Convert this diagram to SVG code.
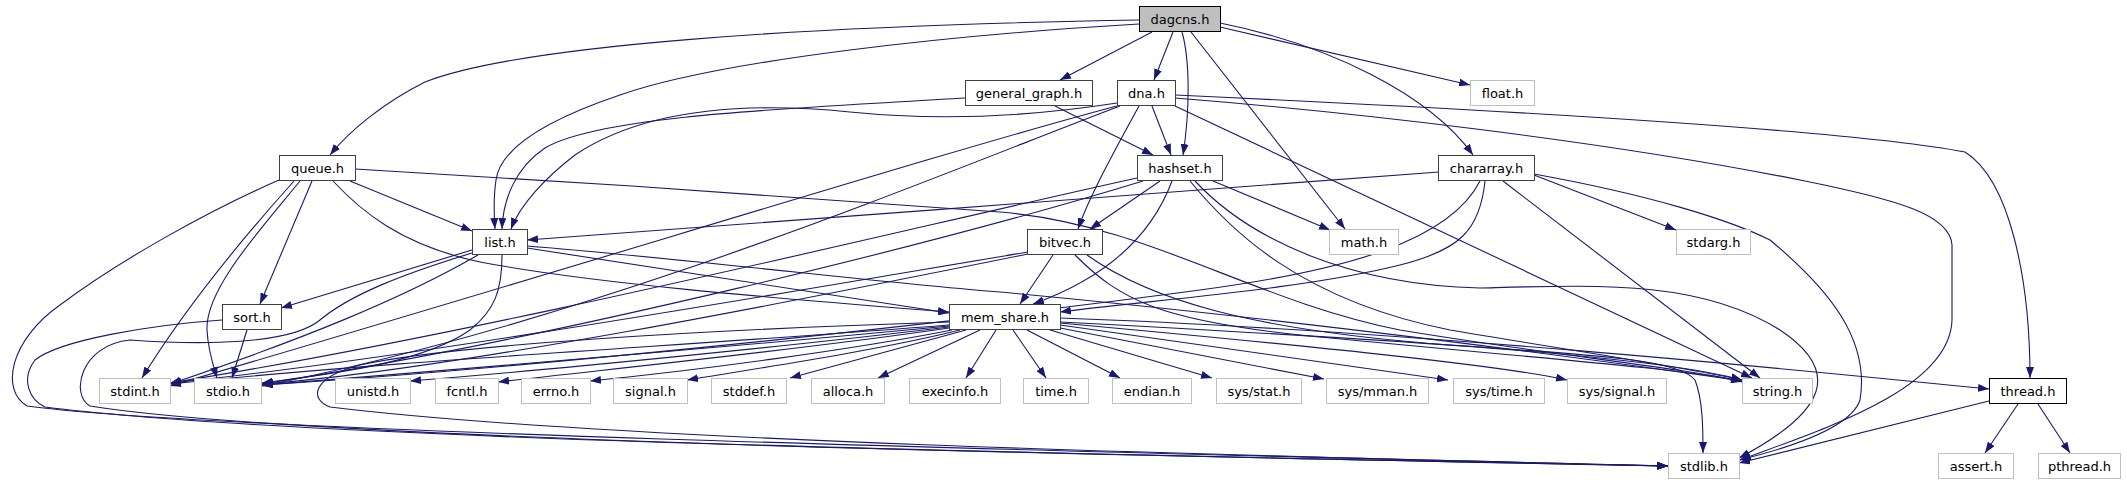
<svg xmlns="http://www.w3.org/2000/svg" width="2127" height="485" viewBox="0 0 2127 485">
<defs>
<marker id="a" viewBox="0 0 11 8" refX="11" refY="4" markerWidth="11" markerHeight="8" orient="auto" markerUnits="userSpaceOnUse"><path d="M0,0L11,4L0,8z" fill="#191970"/></marker>
<style>
rect{fill:#fff;stroke:#404040;stroke-width:1}
.g rect{stroke:#bfbfbf}
.r rect{fill:#bfbfbf;stroke:#000}
.k rect{stroke:#000}
text{font-family:"DejaVu Sans",sans-serif;font-size:13px;text-anchor:middle;fill:#000}
#edges path{fill:none;stroke:#191970;stroke-width:1.1;marker-end:url(#a)}
</style>
</defs>
<rect x="0" y="0" width="2127" height="485" style="fill:#fff;stroke:none"/>
<g id="edges">
<path d="M1139,20 C800,26 520,45 425,82 C385,102 350,130 330,155"/>
<path d="M1139,24 C950,35 720,60 620,95 C540,122 500,150 496,180 C493,200 494,215 495,229"/>
<path d="M1152,32 L1060,80"/>
<path d="M1173,32 L1154,80"/>
<path d="M1182,32 C1190,60 1190,110 1183,155"/>
<path d="M1191,32 L1345,229"/>
<path d="M1220,27 L1470,85"/>
<path d="M1220,23 C1330,45 1430,95 1473,155"/>
<path d="M965,98 C800,108 600,115 545,148 C515,168 503,200 502,229"/>
<path d="M1055,106 L1153,155"/>
<path d="M1117,103 C1040,115 950,122 850,112 C760,103 650,105 575,155 C545,178 520,205 511,229"/>
<path d="M1152,106 L1171,155"/>
<path d="M1139,106 C1115,150 1090,195 1078,229"/>
<path d="M1117,106 C950,150 600,260 170,386"/>
<path d="M1120,106 C950,170 600,320 262,386"/>
<path d="M1175,106 L1752,378"/>
<path d="M1175,98 C1350,112 1600,140 1800,180 C1900,200 1950,215 1952,245 L1952,320 C1950,390 1820,430 1740,460"/>
<path d="M1175,95 C1500,110 1850,130 1965,152 C2010,180 2030,280 2030,378"/>
<path d="M350,181 L472,231"/>
<path d="M333,181 C360,210 400,245 480,262 C600,285 800,300 949,312"/>
<path d="M312,181 L260,304"/>
<path d="M300,181 C260,230 205,290 207,330 C208,350 213,365 217,378"/>
<path d="M294,181 C250,230 190,300 142,378"/>
<path d="M279,180 C210,210 120,260 60,305 C10,340 0,390 27,406 C200,430 1000,450 1668,466"/>
<path d="M355,169 C550,180 850,200 1000,212 C1150,225 1250,300 1400,330 C1550,355 1700,370 1742,382"/>
<path d="M472,250 L281,308"/>
<path d="M527,248 L949,313"/>
<path d="M527,246 C700,260 900,285 1000,292 C1300,320 1600,360 1742,381"/>
<path d="M478,255 C400,300 300,340 170,384"/>
<path d="M502,255 C502,290 495,310 470,330 C420,365 320,375 262,383"/>
<path d="M472,253 C400,275 350,295 320,320 C290,345 200,345 130,340 C80,345 70,395 90,406 C300,440 1100,455 1668,466"/>
<path d="M247,330 L232,378"/>
<path d="M222,320 C150,325 60,340 35,360 C20,380 30,400 45,407 C300,440 1100,455 1668,466"/>
<path d="M949,325 C700,345 400,360 170,384"/>
<path d="M949,326 C700,350 450,370 262,385"/>
<path d="M949,327 C800,345 550,370 410,381"/>
<path d="M949,328 C800,350 600,370 498,382"/>
<path d="M952,330 C850,350 700,370 590,381"/>
<path d="M960,330 C880,350 760,368 687,380"/>
<path d="M966,330 L790,378"/>
<path d="M980,330 L878,378"/>
<path d="M996,330 L966,378"/>
<path d="M1013,330 L1046,378"/>
<path d="M1027,330 L1120,378"/>
<path d="M1050,330 L1212,378"/>
<path d="M1060,328 L1324,379"/>
<path d="M1060,325 L1448,380"/>
<path d="M1060,323 C1300,345 1500,365 1567,380"/>
<path d="M1060,322 C1400,340 1650,355 1742,380"/>
<path d="M949,322 C700,330 450,345 360,365 C310,378 310,400 330,407 C600,440 1200,455 1668,466"/>
<path d="M1060,318 C1400,330 1800,370 1989,389"/>
<path d="M1053,255 L1020,304"/>
<path d="M1028,252 C800,290 400,360 170,383"/>
<path d="M1028,254 C800,300 450,370 262,384"/>
<path d="M1075,255 C1120,300 1160,320 1300,335 C1500,355 1680,368 1742,381"/>
<path d="M1087,255 C1150,300 1250,330 1450,345 C1600,355 1680,360 1695,380 C1703,400 1703,430 1703,453"/>
<path d="M1160,181 L1090,229"/>
<path d="M1172,181 C1150,240 1100,280 1033,304"/>
<path d="M1213,181 L1330,230"/>
<path d="M1137,178 C900,230 500,330 170,383"/>
<path d="M1143,181 C950,240 550,340 262,384"/>
<path d="M1190,181 C1230,230 1300,300 1450,330 C1600,355 1700,370 1742,380"/>
<path d="M1195,181 C1250,240 1350,285 1480,288 C1600,285 1700,280 1780,330 C1840,370 1830,410 1739,458"/>
<path d="M1439,172 C1200,190 800,220 527,240"/>
<path d="M1485,181 C1480,230 1460,250 1400,265 C1300,290 1150,300 1060,312"/>
<path d="M1480,181 C1450,240 1350,270 1200,290 C900,330 500,370 262,385"/>
<path d="M1534,175 L1676,230"/>
<path d="M1503,181 L1760,378"/>
<path d="M1534,174 C1650,195 1730,220 1770,240 C1830,290 1870,340 1860,400 C1850,430 1780,450 1739,460"/>
<path d="M1989,401 L1739,463"/>
<path d="M2018,404 L1985,453"/>
<path d="M2038,404 L2070,453"/>
</g>
<g id="dagcns" class="r"><rect x="1139.5" y="6.5" width="81" height="25"/><text x="1180" y="23.5">dagcns.h</text></g>
<g id="general_graph"><rect x="965.5" y="80.5" width="127" height="25"/><text x="1029" y="97.5">general_graph.h</text></g>
<g id="dna"><rect x="1117.5" y="80.5" width="58" height="25"/><text x="1146.5" y="97.5">dna.h</text></g>
<g id="float" class="g"><rect x="1470.5" y="80.5" width="64" height="25"/><text x="1502.5" y="97.5">float.h</text></g>
<g id="queue"><rect x="279.5" y="155.5" width="76" height="25"/><text x="317.5" y="172.5">queue.h</text></g>
<g id="hashset"><rect x="1137.5" y="155.5" width="85" height="25"/><text x="1180" y="172.5">hashset.h</text></g>
<g id="chararray"><rect x="1438.5" y="155.5" width="96" height="25"/><text x="1486.5" y="172.5">chararray.h</text></g>
<g id="list"><rect x="472.5" y="229.5" width="55" height="25"/><text x="500" y="246.5">list.h</text></g>
<g id="bitvec"><rect x="1027.5" y="229.5" width="75" height="25"/><text x="1065" y="246.5">bitvec.h</text></g>
<g id="math" class="g"><rect x="1329.5" y="229.5" width="69" height="25"/><text x="1364" y="246.5">math.h</text></g>
<g id="stdarg" class="g"><rect x="1676.5" y="229.5" width="74" height="25"/><text x="1713.5" y="246.5">stdarg.h</text></g>
<g id="sort"><rect x="222.5" y="304.5" width="59" height="25"/><text x="252" y="321.5">sort.h</text></g>
<g id="mem_share"><rect x="949.5" y="304.5" width="111" height="25"/><text x="1005" y="321.5">mem_share.h</text></g>
<g id="stdint" class="g"><rect x="99.5" y="378.5" width="71" height="25"/><text x="135" y="395.5">stdint.h</text></g>
<g id="stdio" class="g"><rect x="194.5" y="378.5" width="67" height="25"/><text x="228" y="395.5">stdio.h</text></g>
<g id="unistd" class="g"><rect x="335.5" y="378.5" width="75" height="25"/><text x="373" y="395.5">unistd.h</text></g>
<g id="fcntl" class="g"><rect x="435.5" y="378.5" width="63" height="25"/><text x="467" y="395.5">fcntl.h</text></g>
<g id="errno" class="g"><rect x="521.5" y="378.5" width="69" height="25"/><text x="556" y="395.5">errno.h</text></g>
<g id="signal" class="g"><rect x="613.5" y="378.5" width="74" height="25"/><text x="650.5" y="395.5">signal.h</text></g>
<g id="stddef" class="g"><rect x="711.5" y="378.5" width="75" height="25"/><text x="749" y="395.5">stddef.h</text></g>
<g id="alloca" class="g"><rect x="811.5" y="378.5" width="73" height="25"/><text x="848" y="395.5">alloca.h</text></g>
<g id="execinfo" class="g"><rect x="909.5" y="378.5" width="91" height="25"/><text x="955" y="395.5">execinfo.h</text></g>
<g id="time" class="g"><rect x="1023.5" y="378.5" width="65" height="25"/><text x="1056" y="395.5">time.h</text></g>
<g id="endian" class="g"><rect x="1112.5" y="378.5" width="79" height="25"/><text x="1152" y="395.5">endian.h</text></g>
<g id="sys_stat" class="g"><rect x="1216.5" y="378.5" width="85" height="25"/><text x="1259" y="395.5">sys/stat.h</text></g>
<g id="sys_mman" class="g"><rect x="1326.5" y="378.5" width="102" height="25"/><text x="1377.5" y="395.5">sys/mman.h</text></g>
<g id="sys_time" class="g"><rect x="1453.5" y="378.5" width="91" height="25"/><text x="1499" y="395.5">sys/time.h</text></g>
<g id="sys_signal" class="g"><rect x="1567.5" y="378.5" width="99" height="25"/><text x="1617" y="395.5">sys/signal.h</text></g>
<g id="string" class="g"><rect x="1742.5" y="378.5" width="70" height="25"/><text x="1777.5" y="395.5">string.h</text></g>
<g id="thread" class="k"><rect x="1989.5" y="378.5" width="77" height="25"/><text x="2028" y="395.5">thread.h</text></g>
<g id="stdlib" class="g"><rect x="1668.5" y="453.5" width="71" height="25"/><text x="1704" y="470.5">stdlib.h</text></g>
<g id="assert" class="g"><rect x="1938.5" y="453.5" width="75" height="25"/><text x="1976" y="470.5">assert.h</text></g>
<g id="pthread" class="g"><rect x="2038.5" y="453.5" width="82" height="25"/><text x="2079.5" y="470.5">pthread.h</text></g>
</svg>
